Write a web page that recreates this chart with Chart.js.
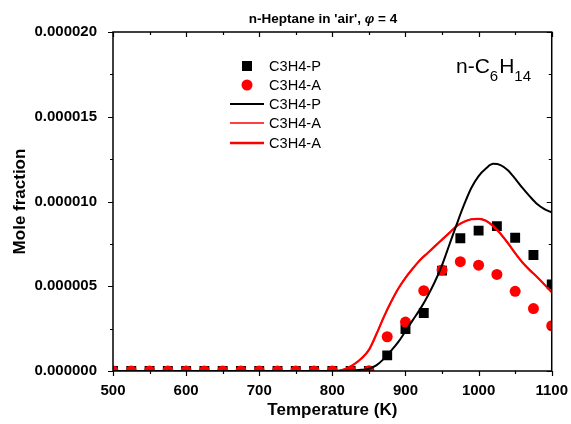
<!doctype html>
<html lang="en">
<head>
  <meta charset="UTF-8" />
  <title>n-Heptane in 'air' - C3H4</title>
  <script src="https://cdn.jsdelivr.net/npm/chart.js"></script>
  <style>
    html, body { margin: 0; padding: 0; background: #fff; }
    #chart { display: block; }
  </style>
</head>
<body>
  <canvas id="chart" width="571" height="424"></canvas>

  <script>
    // measured points (symbols)
    const tExp = [500, 525, 550, 575, 600, 625, 650, 675, 700, 725, 750, 775, 800,
      825, 850, 875, 900, 925, 950, 975, 1000, 1025, 1050, 1075, 1100];
    const c3h4pExp = [0, 0, 0, 0, 0, 0, 0, 0, 0, 0, 0, 0, 0,
      0, 0, 0.92e-6, 2.47e-6, 3.42e-6, 5.92e-6, 7.83e-6, 8.28e-6, 8.55e-6, 7.86e-6, 6.84e-6, 5.11e-6];
    const c3h4aExp = [0, 0, 0, 0, 0, 0, 0, 0, 0, 0, 0, 0, 0,
      0, 0.02e-6, 2.02e-6, 2.89e-6, 4.74e-6, 5.96e-6, 6.45e-6, 6.24e-6, 5.70e-6, 4.70e-6, 3.68e-6, 2.67e-6];

    // model (lines)
    const tModel = [500, 600, 700, 800, 810, 820, 830, 840, 850, 860, 870, 880, 890, 900,
      910, 920, 930, 940, 950, 960, 970, 980, 990, 1000, 1010, 1020, 1030, 1040, 1050,
      1060, 1070, 1080, 1090, 1100];
    const c3h4pModel = [0, 0, 0, 0, 0.005e-6, 0.015e-6, 0.035e-6, 0.07e-6, 0.13e-6, 0.33e-6, 0.7e-6,
      1.18e-6, 1.7e-6, 2.35e-6, 3.0e-6, 3.65e-6, 4.4e-6, 5.25e-6, 6.25e-6, 7.45e-6, 8.65e-6, 9.8e-6,
      10.8e-6, 11.5e-6, 11.95e-6, 12.22e-6, 12.15e-6, 11.85e-6, 11.35e-6, 10.8e-6, 10.3e-6,
      9.85e-6, 9.55e-6, 9.35e-6];
    const c3h4aModel = [0, 0, 0, 0, 0.03e-6, 0.15e-6, 0.4e-6, 0.75e-6, 1.25e-6, 2.15e-6, 3.15e-6,
      4.05e-6, 4.85e-6, 5.5e-6, 6.05e-6, 6.55e-6, 6.95e-6, 7.35e-6, 7.75e-6, 8.15e-6, 8.55e-6, 8.8e-6,
      8.95e-6, 8.98e-6, 8.87e-6, 8.55e-6, 8.1e-6, 7.55e-6, 6.95e-6, 6.4e-6, 5.95e-6, 5.55e-6,
      5.1e-6, 4.65e-6];

    // axis ticks ('' = minor tick, no label)
    const xTicks = [500, 550, 600, 650, 700, 750, 800, 850, 900, 950, 1000, 1050, 1100];
    const xTickLabels = ['500', '', '600', '', '700', '', '800', '', '900', '', '1000', '', '1100'];
    const yTicks = [0, 2.5e-6, 5e-6, 7.5e-6, 10e-6, 12.5e-6, 15e-6, 17.5e-6, 20e-6];
    const yTickLabels = ['0.000000', '', '0.000005', '', '0.000010', '', '0.000015', '', '0.000020'];

    const FONT = "'Liberation Sans', Arial, sans-serif";

    const pts = (xs, ys) => xs.map((x, i) => ({ x: x, y: ys[i] }));

    // frame, tick marks, titles, legend and species label
    const decor = {
      id: "decor",
      afterDatasetsDraw(chart) {
        const { ctx, chartArea: a } = chart;
        const xs = chart.scales.x, ys = chart.scales.y;
        ctx.save();
        ctx.strokeStyle = "#000";
        ctx.lineWidth = 1.5;
        ctx.strokeRect(a.left, a.top, a.right - a.left, a.bottom - a.top);
        ctx.lineWidth = 1.2;
        ctx.beginPath();
        xTicks.forEach((v, i) => {
          const px = Math.round(xs.getPixelForValue(v)) + 0.5;
          const len = xTickLabels[i] ? 5 : 3;
          ctx.moveTo(px, a.bottom); ctx.lineTo(px, a.bottom + len);
          ctx.moveTo(px, a.top); ctx.lineTo(px, a.top + len);
        });
        yTicks.forEach((v, i) => {
          const py = Math.round(ys.getPixelForValue(v)) + 0.5;
          const len = yTickLabels[i] ? 5 : 3;
          ctx.moveTo(a.left, py); ctx.lineTo(a.left - len, py);
          ctx.moveTo(a.right, py); ctx.lineTo(a.right - len, py);
        });
        ctx.stroke();
        ctx.restore();
      },
      afterDraw(chart) {
        const { ctx, chartArea: a } = chart;
        ctx.save();
        ctx.fillStyle = "#000";

        // title with italic phi
        const t1 = "n-Heptane in 'air', ", t2 = "\u03c6", t3 = " = 4";
        ctx.textBaseline = "alphabetic";
        ctx.textAlign = "left";
        ctx.font = "bold 13.5px " + FONT;
        const w1 = ctx.measureText(t1).width, w3 = ctx.measureText(t3).width;
        ctx.font = "bold italic 13.5px " + FONT;
        const w2 = ctx.measureText(t2).width;
        let tx = 323 - (w1 + w2 + w3) / 2;
        ctx.font = "bold 13.5px " + FONT;
        ctx.fillText(t1, tx, 23);
        ctx.font = "bold italic 13.5px " + FONT;
        ctx.fillText(t2, tx + w1, 23);
        ctx.font = "bold 13.5px " + FONT;
        ctx.fillText(t3, tx + w1 + w2, 23);

        // axis titles
        ctx.font = "bold 17px " + FONT;
        ctx.textAlign = "center";
        ctx.textBaseline = "middle";
        ctx.fillText("Temperature (K)", (a.left + a.right) / 2, 410);
        ctx.save();
        ctx.translate(20, (a.top + a.bottom) / 2);
        ctx.rotate(-Math.PI / 2);
        ctx.fillText("Mole fraction", 0, 0);
        ctx.restore();

        // species label n-C6H14
        ctx.textAlign = "left";
        ctx.textBaseline = "alphabetic";
        let lx = 456;
        const parts = [["n-C", 21, 73], ["6", 15, 81], ["H", 21, 73], ["14", 15, 81]];
        parts.forEach(([s, size, by]) => {
          ctx.font = size + "px " + FONT;
          ctx.fillText(s, lx, by);
          lx += ctx.measureText(s).width + (size < 20 ? 1 : 0);
        });

        // legend
        const items = [
          { label: "C3H4-P", kind: "rect", color: "#000", y: 66 },
          { label: "C3H4-A", kind: "circle", color: "#ff0000", y: 85 },
          { label: "C3H4-P", kind: "line", color: "#000", w: 2, y: 104 },
          { label: "C3H4-A", kind: "line", color: "#ff0000", w: 1.5, y: 123 },
          { label: "C3H4-A", kind: "line", color: "#ff0000", w: 2.5, y: 143 }
        ];
        ctx.font = "14.6px " + FONT;
        ctx.textBaseline = "middle";
        items.forEach(it => {
          ctx.fillStyle = it.color;
          ctx.strokeStyle = it.color;
          if (it.kind === "rect") {
            ctx.fillRect(242, it.y - 5, 10, 10);
          } else if (it.kind === "circle") {
            ctx.beginPath();
            ctx.arc(247, it.y, 5.5, 0, Math.PI * 2);
            ctx.fill();
          } else {
            ctx.lineWidth = it.w;
            ctx.beginPath();
            ctx.moveTo(230, it.y);
            ctx.lineTo(264, it.y);
            ctx.stroke();
          }
          ctx.fillStyle = "#000";
          ctx.fillText(it.label, 269, it.y + 1);
        });
        ctx.restore();
      }
    };

    const ctx = document.getElementById("chart");

    new Chart(ctx, {
      type: "scatter",
      data: {
        datasets: [
          {
            label: "C3H4-P",
            data: pts(tModel, c3h4pModel),
            showLine: true,
            borderColor: "#000",
            borderWidth: 2,
            pointRadius: 0,
            cubicInterpolationMode: "monotone",
            order: 0
          },
          {
            label: "C3H4-A",
            data: pts(tModel, c3h4aModel),
            showLine: true,
            borderColor: "#ff0000",
            borderWidth: 2.2,
            pointRadius: 0,
            cubicInterpolationMode: "monotone",
            order: 1
          },
          {
            label: "C3H4-A",
            data: pts(tModel, c3h4aModel),
            showLine: true,
            borderColor: "#ff0000",
            borderWidth: 1.5,
            pointRadius: 0,
            cubicInterpolationMode: "monotone",
            order: 1
          },
          {
            label: "C3H4-A",
            data: pts(tExp, c3h4aExp),
            pointStyle: "circle",
            pointRadius: 5.5,
            pointBackgroundColor: "#ff0000",
            pointBorderWidth: 0,
            order: 2
          },
          {
            label: "C3H4-P",
            data: pts(tExp, c3h4pExp),
            pointStyle: "rect",
            pointRadius: 7,
            pointBackgroundColor: "#000",
            pointBorderWidth: 0,
            order: 3
          }
        ]
      },
      options: {
        responsive: false,
        animation: false,
        devicePixelRatio: 1,
        layout: { padding: { top: 32, right: 16, left: 0, bottom: 0 } },
        plugins: {
          legend: { display: false },
          tooltip: { enabled: false }
        },
        scales: {
          x: {
            type: "linear",
            min: 500,
            max: 1100,
            afterBuildTicks: (s) => { s.ticks = xTicks.map(v => ({ value: v })); },
            afterFit: (s) => { s.height = 53; },
            grid: { display: false },
            border: { display: false },
            ticks: {
              autoSkip: false,
              maxRotation: 0,
              padding: 3,
              color: "#000",
              font: { family: FONT, weight: "bold", size: 15 },
              callback: (v, i) => xTickLabels[i]
            }
          },
          y: {
            min: 0,
            max: 20e-6,
            afterBuildTicks: (s) => { s.ticks = yTicks.map(v => ({ value: v })); },
            afterFit: (s) => { s.width = 113; },
            grid: { display: false },
            border: { display: false },
            ticks: {
              autoSkip: false,
              padding: 8,
              color: "#000",
              font: { family: FONT, weight: "bold", size: 15 },
              callback: (v, i) => yTickLabels[i]
            }
          }
        }
      },
      plugins: [decor]
    });
  </script>
</body>
</html>
